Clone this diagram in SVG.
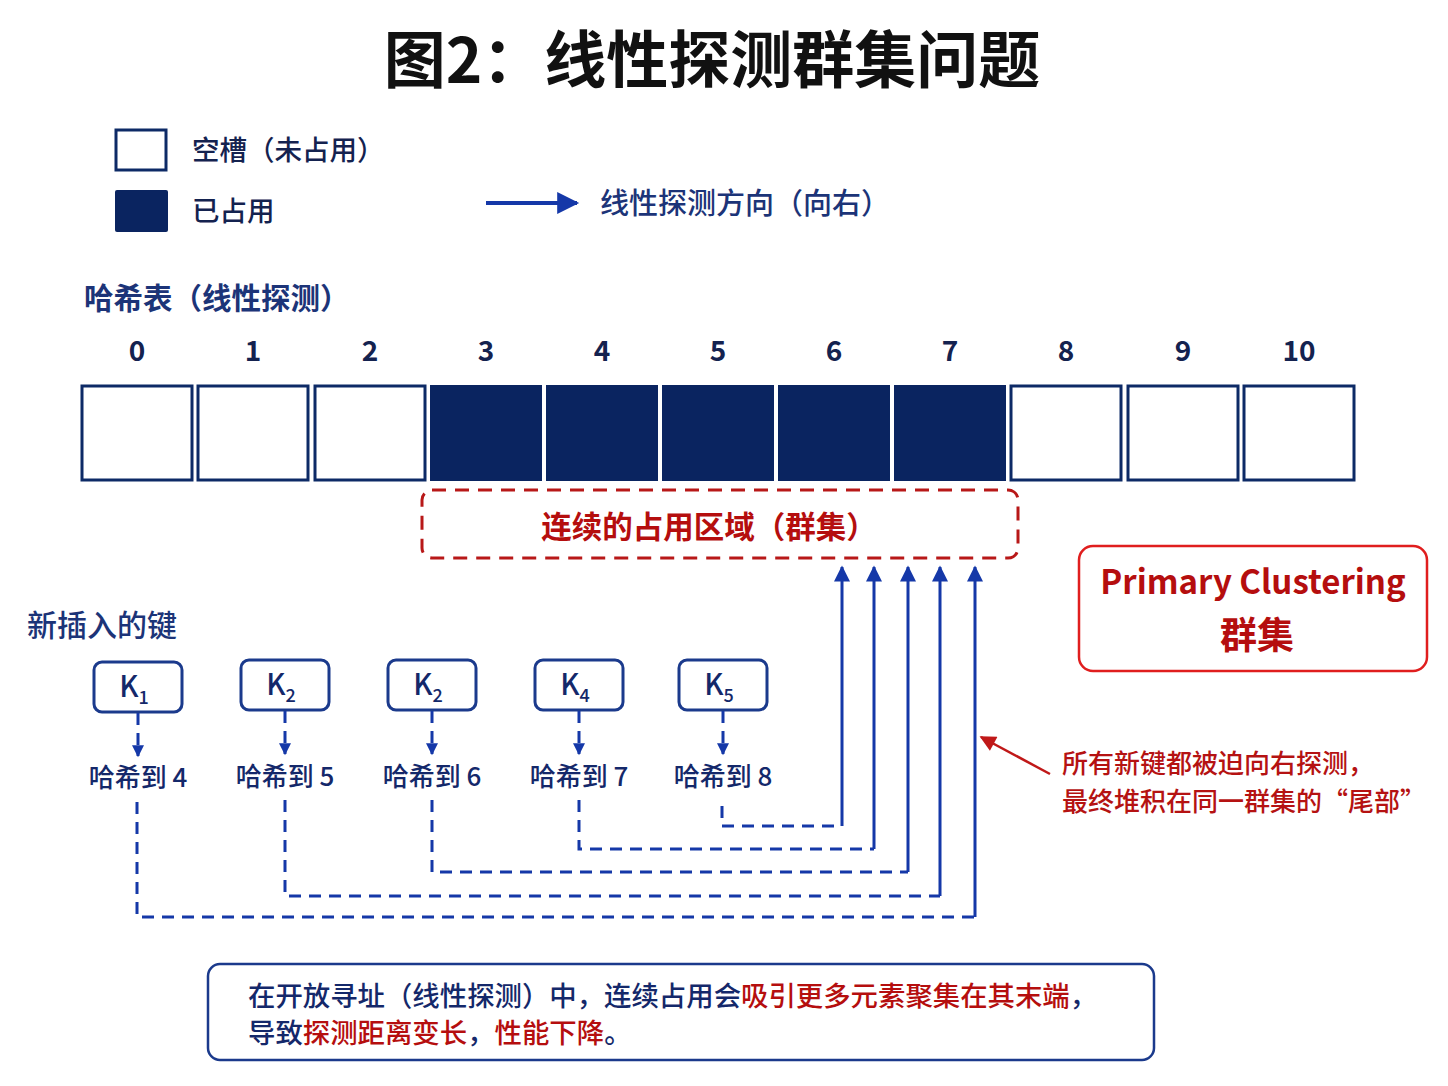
<svg xmlns="http://www.w3.org/2000/svg" width="1448" height="1086" viewBox="0 0 1448 1086">
<defs>
<style>
text{font-family:"Noto Sans CJK SC","Noto Sans",sans-serif;}
.title{font-size:62px;font-weight:700;fill:#111;}
.lg{font-size:27.5px;font-weight:500;fill:#14224f;}
.hdr{font-size:29.5px;font-weight:700;fill:#1c3478;}
.idx{font-size:28px;font-weight:700;fill:#14224f;text-anchor:middle;}
.empty{fill:#fff;stroke:#0d2a66;stroke-width:3;}
.full{fill:#0a2460;stroke:none;}
.key{fill:#fff;stroke:#1b3a8c;stroke-width:3;}
.ktxt{font-size:29px;font-weight:500;fill:#14286a;text-anchor:middle;}
.hl{font-size:26px;font-weight:500;fill:#14286a;text-anchor:middle;}
.dash{fill:none;stroke:#1538a8;stroke-width:3;stroke-dasharray:12 8;}
.solid{fill:none;stroke:#1538a8;stroke-width:3;}
.note{font-size:26px;font-weight:500;fill:#b51212;}
.foot{font-size:27.4px;font-weight:500;fill:#14286a;}
</style>
<marker id="ab" viewBox="0 0 10 10" refX="9" refY="5" markerWidth="14" markerHeight="12" markerUnits="userSpaceOnUse" orient="auto"><path d="M0,0 L10,5 L0,10 z" fill="#1538a8"/></marker>
<marker id="aup" viewBox="0 0 10 10" refX="9" refY="5" markerWidth="22" markerHeight="16" markerUnits="userSpaceOnUse" orient="auto"><path d="M0,0 L10,5 L0,10 z" fill="#1538a8"/></marker>
<marker id="abig" viewBox="0 0 10 10" refX="9" refY="5" markerWidth="24" markerHeight="22" markerUnits="userSpaceOnUse" orient="auto"><path d="M0,0 L10,5 L0,10 z" fill="#1538a8"/></marker>
<marker id="ar" viewBox="0 0 10 10" refX="9" refY="5" markerWidth="18" markerHeight="16" markerUnits="userSpaceOnUse" orient="auto"><path d="M0,0 L10,5 L0,10 z" fill="#c01818"/></marker>
</defs>
<rect width="1448" height="1086" fill="#fff"/>

<text class="title" x="712" y="83" text-anchor="middle">图2：线性探测群集问题</text>

<g id="legend">
<rect class="empty" x="116" y="130" width="50" height="40"/>
<rect class="full" x="115" y="190" width="53" height="42" rx="2"/>
<text class="lg" x="192" y="160">空槽（未占用）</text>
<text class="lg" x="192" y="221">已占用</text>
<line x1="486" y1="203" x2="577" y2="203" stroke="#1538a8" stroke-width="4" marker-end="url(#abig)"/>
<text x="600" y="214" font-size="29" font-weight="500" fill="#1c3478">线性探测方向（向右）</text>
</g>

<g id="table">
<text class="hdr" x="84" y="309">哈希表（线性探测）</text>
<text class="idx" x="137" y="361">0</text>
<text class="idx" x="253" y="361">1</text>
<text class="idx" x="370" y="361">2</text>
<text class="idx" x="486" y="361">3</text>
<text class="idx" x="602" y="361">4</text>
<text class="idx" x="718" y="361">5</text>
<text class="idx" x="834" y="361">6</text>
<text class="idx" x="950" y="361">7</text>
<text class="idx" x="1066" y="361">8</text>
<text class="idx" x="1183" y="361">9</text>
<text class="idx" x="1299" y="361">10</text>
<rect class="empty" x="82" y="386" width="110" height="94"/>
<rect class="empty" x="198" y="386" width="110" height="94"/>
<rect class="empty" x="315" y="386" width="110" height="94"/>
<rect class="full" x="430" y="385" width="112" height="96"/>
<rect class="full" x="546" y="385" width="112" height="96"/>
<rect class="full" x="662" y="385" width="112" height="96"/>
<rect class="full" x="778" y="385" width="112" height="96"/>
<rect class="full" x="894" y="385" width="112" height="96"/>
<rect class="empty" x="1011" y="386" width="110" height="94"/>
<rect class="empty" x="1128" y="386" width="110" height="94"/>
<rect class="empty" x="1244" y="386" width="110" height="94"/>
</g>

<g id="cluster">
<rect x="422" y="490" width="596" height="68" rx="10" fill="none" stroke="#b81818" stroke-width="3" stroke-dasharray="14 9"/>
<text x="709" y="538" font-size="30.5" font-weight="700" fill="#b50e0e" text-anchor="middle">连续的占用区域（群集）</text>
</g>

<g id="primary">
<rect x="1079" y="546" width="348" height="125" rx="14" fill="#fff" stroke="#e01e1e" stroke-width="2.5"/>
<text x="1253" y="594" font-size="33" font-weight="700" fill="#b50e0e" text-anchor="middle">Primary Clustering</text>
<text x="1257" y="649" font-size="37" font-weight="700" fill="#b50e0e" text-anchor="middle">群集</text>
</g>

<text x="27" y="636" font-size="30" font-weight="500" fill="#1c3478">新插入的键</text>

<g id="k1"><rect class="key" x="94" y="662" width="88" height="50" rx="8"/><text class="ktxt" x="134" y="697">K<tspan font-size="18" dy="7">1</tspan></text></g>
<g id="k2"><rect class="key" x="241" y="660" width="88" height="50" rx="8"/><text class="ktxt" x="281" y="695">K<tspan font-size="18" dy="7">2</tspan></text></g>
<g id="k3"><rect class="key" x="388" y="660" width="88" height="50" rx="8"/><text class="ktxt" x="428" y="695">K<tspan font-size="18" dy="7">2</tspan></text></g>
<g id="k4"><rect class="key" x="535" y="660" width="88" height="50" rx="8"/><text class="ktxt" x="575" y="695">K<tspan font-size="18" dy="7">4</tspan></text></g>
<g id="k5"><rect class="key" x="679" y="660" width="88" height="50" rx="8"/><text class="ktxt" x="719" y="695">K<tspan font-size="18" dy="7">5</tspan></text></g>

<g id="hashlabels">
<text class="hl" x="138" y="787">哈希到 4</text>
<text class="hl" x="285" y="786">哈希到 5</text>
<text class="hl" x="432" y="786">哈希到 6</text>
<text class="hl" x="579" y="786">哈希到 7</text>
<text class="hl" x="723" y="786">哈希到 8</text>
</g>

<g id="connectors">
<line class="dash" x1="138" y1="713" x2="138" y2="756" stroke-dasharray="8 6" marker-end="url(#ab)"/>
<line class="dash" x1="285" y1="711" x2="285" y2="754" stroke-dasharray="8 6" marker-end="url(#ab)"/>
<line class="dash" x1="432" y1="711" x2="432" y2="754" stroke-dasharray="8 6" marker-end="url(#ab)"/>
<line class="dash" x1="579" y1="711" x2="579" y2="754" stroke-dasharray="8 6" marker-end="url(#ab)"/>
<line class="dash" x1="723" y1="711" x2="723" y2="754" stroke-dasharray="8 6" marker-end="url(#ab)"/>

<polyline class="dash" points="722,806 722,826 842,826"/>
<polyline class="dash" points="579,800 579,849 874,849"/>
<polyline class="dash" points="432,800 432,872 908,872"/>
<polyline class="dash" points="285,800 285,896 940,896"/>
<polyline class="dash" points="137,802 137,917 975,917"/>

<line class="solid" x1="842" y1="826" x2="842" y2="567" marker-end="url(#aup)"/>
<line class="solid" x1="874" y1="849" x2="874" y2="567" marker-end="url(#aup)"/>
<line class="solid" x1="908" y1="872" x2="908" y2="567" marker-end="url(#aup)"/>
<line class="solid" x1="940" y1="896" x2="940" y2="567" marker-end="url(#aup)"/>
<line class="solid" x1="975" y1="917" x2="975" y2="567" marker-end="url(#aup)"/>

<line x1="1050" y1="774" x2="981" y2="737" stroke="#c01818" stroke-width="2.5" marker-end="url(#ar)"/>
</g>

<g id="note">
<text class="note" x="1062" y="773">所有新键都被迫向右探测，</text>
<text class="note" x="1062" y="811">最终堆积在同一群集的“尾部”</text>
</g>

<g id="footer">
<rect x="208" y="964" width="946" height="96" rx="12" fill="#fff" stroke="#1b3a8c" stroke-width="2.5"/>
<text class="foot" x="248" y="1006">在开放寻址（线性探测）中，连续占用会<tspan fill="#b50e0e">吸引更多元素聚集在其末端</tspan>，</text>
<text class="foot" x="248" y="1043">导致<tspan fill="#b50e0e">探测距离变长</tspan>，<tspan fill="#b50e0e">性能下降</tspan>。</text>
</g>
</svg>
